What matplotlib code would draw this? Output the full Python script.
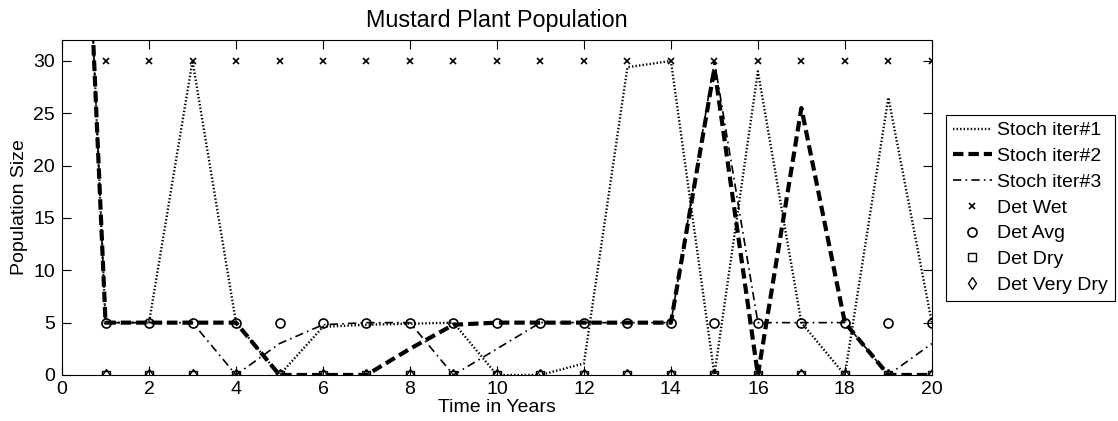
import matplotlib
matplotlib.use('Agg')
import matplotlib.pyplot as plt

plt.rcParams['font.family'] = ['Liberation Sans', 'DejaVu Sans']
plt.rcParams['font.size'] = 14

# Stochastic runs (t = 0..20)
years = [0, 1, 2, 3, 4, 5, 6, 7, 8, 9, 10, 11, 12, 13, 14, 15, 16, 17, 18, 19, 20]
stoch_1 = [100, 5, 5, 30, 5, 0, 4.6, 4.8, 4.9, 5, 0, 0, 1.1, 29.4, 30, 0, 29, 5, 0, 26.5, 5]
stoch_2 = [100, 5, 5, 5, 5, 0, 0, 0, 2.5, 4.8, 5, 5, 5, 5, 5, 29.3, 0, 25.5, 5, 0, 0]
stoch_3 = [100, 5, 5, 5, 0, 3, 4.8, 5, 5, 0, 2.5, 5, 5, 5, 5, 30, 5, 5, 5, 0, 3]

# Deterministic runs (t = 1..20)
det_years = [1, 2, 3, 4, 5, 6, 7, 8, 9, 10, 11, 12, 13, 14, 15, 16, 17, 18, 19, 20]
det_wet = [30, 30, 30, 30, 30, 30, 30, 30, 30, 30, 30, 30, 30, 30, 30, 30, 30, 30, 30, 30]
det_avg = [5, 5, 5, 5, 5, 5, 5, 5, 5, 5, 5, 5, 5, 5, 5, 5, 5, 5, 5, 5]
det_dry = [0, 0, 0, 0, 0, 0, 0, 0, 0, 0, 0, 0, 0, 0, 0, 0, 0, 0, 0, 0]
det_very_dry = [0, 0, 0, 0, 0, 0, 0, 0, 0, 0, 0, 0, 0, 0, 0, 0, 0, 0, 0, 0]

fig = plt.figure(figsize=(11.18, 4.21), dpi=100)
ax = fig.add_axes([0.0555, 0.1093, 0.778, 0.7957])

ax.plot(years, stoch_1, color='k', lw=1.7, linestyle=(0, (0.6, 0.9)), label='Stoch iter#1')
ax.plot(years, stoch_2, color='k', lw=3, linestyle=(0, (2.5, 1.2)), label='Stoch iter#2')
ax.plot(years, stoch_3, color='k', lw=1.2, linestyle=(0, (5, 2.5, 1, 2.5)), label='Stoch iter#3')
ax.plot(det_years, det_wet, 'x', color='k', ms=4, mew=1.2, label='Det Wet')
ax.plot(det_years, det_avg, 'o', color='k', mfc='none', ms=6.5, mew=1.2, label='Det Avg')
ax.plot(det_years, det_dry, 's', color='k', mfc='none', ms=5.5, mew=1.0, label='Det Dry')
ax.plot(det_years, det_very_dry, 'd', color='k', mfc='none', ms=6, mew=1.0, label='Det Very Dry')

ax.set_xlim(0, 20)
ax.set_ylim(0, 32)
ax.set_xticks(range(0, 21, 2))
ax.set_yticks(range(0, 31, 5))
ax.tick_params(direction='in', top=True, right=True, length=6.5, width=0.8)
ax.tick_params(axis='x', pad=4)
ax.tick_params(axis='y', pad=5)
for s in ax.spines.values():
    s.set_linewidth(0.8)

ax.set_title('Mustard Plant Population', pad=9)
ax.set_xlabel('Time in Years', labelpad=1)
ax.set_ylabel('Population Size', labelpad=4)

leg = ax.legend(loc='upper left', bbox_to_anchor=(0.846, 0.727), bbox_transform=fig.transFigure,
                borderaxespad=0, fancybox=False, edgecolor='k', framealpha=1,
                borderpad=0.35, handlelength=2.0, handletextpad=0.3, labelspacing=0.42)
leg.get_frame().set_linewidth(0.8)

plt.savefig('out.png', dpi=100)
